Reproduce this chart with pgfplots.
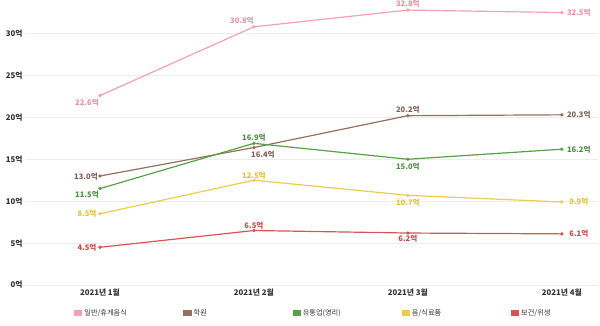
\documentclass[border=0pt]{standalone}
\usepackage{pgfplots}
\pgfplotsset{compat=1.18}
\usepackage{pgfplotstable}
\usepackage{fontspec}
\setmainfont{Noto Sans CJK KR}
\definecolor{cpink}{HTML}{F2A1B1}
\definecolor{lpink}{HTML}{EC8FA2}
\definecolor{cbrown}{HTML}{957060}
\definecolor{lbrown}{HTML}{7E6055}
\definecolor{cgreen}{HTML}{56A046}
\definecolor{lgreen}{HTML}{4E8E42}
\definecolor{cyellow}{HTML}{EDCB4E}
\definecolor{lyellow}{HTML}{E6BE38}
\definecolor{cred}{HTML}{D65454}
\definecolor{lred}{HTML}{C84848}
\definecolor{ctext}{HTML}{333333}

\pgfplotstableread{
x y dx dy
0 22.6 -13 -7
1 30.8 -12 6
2 32.8 0 6
3 32.5 17 0
}\pinkdata
\pgfplotstableread{
x y dx dy
0 13.0 -14 -1
1 16.4 9 -7
2 20.2 0 6
3 20.3 17 0
}\browndata
\pgfplotstableread{
x y dx dy
0 11.5 -13 -6
1 16.9 0 6
2 15.0 0 -7
3 16.2 17 0
}\greendata
\pgfplotstableread{
x y dx dy
0 8.5 -13 0
1 12.5 0 5
2 10.7 0 -7
3 9.9 17 0
}\yellowdata
\pgfplotstableread{
x y dx dy
0 4.5 -13 0
1 6.5 0 5
2 6.2 0 -6
3 6.1 17 0
}\reddata

\begin{document}
\begin{tikzpicture}
\useasboundingbox (0,0) rectangle (600bp,326bp);
\begin{axis}[
  at={(25bp,41bp)}, anchor=south west,
  scale only axis, width=573bp, height=285bp,
  xmin=-0.487, xmax=3.235, ymin=0, ymax=34,
  clip=false,
  axis line style={draw=none},
  major tick length=0pt,
  ymajorgrids, major grid style={color=black!7, line width=0.5bp},
  ytick={0,5,...,30},
  /pgf/number format/assume math mode=true,
  yticklabel={\pgfmathprintnumber{\tick}억},
  yticklabel style={xshift=1bp},
  xtick={0,1,2,3},
  xticklabels={2021년 1월,2021년 2월,2021년 3월,2021년 4월},
  ticklabel style={font=\fontsize{7.8bp}{9bp}\selectfont\bfseries, text=ctext},
  nodes near coords={\pgfmathprintnumber[fixed,fixed zerofill,precision=1]{\pgfplotspointmeta}억},
  visualization depends on={\thisrow{dx} \as \dx},
  visualization depends on={\thisrow{dy} \as \dy},
  every node near coord/.append style={anchor=center, xshift=\dx bp, yshift=\dy bp, font=\fontsize{7.6bp}{9bp}\selectfont\bfseries, inner sep=0pt},
  every axis plot/.append style={line width=1.2bp, mark=*, mark size=1bp},
  legend image code/.code={\fill[#1] (0bp,-2.5bp) rectangle (7bp,2.5bp);},
  legend columns=5,
  legend style={at={(0.0855,-0.098)}, anchor=west, draw=none, fill=none, inner sep=0pt,
    nodes={inner sep=1bp, font=\fontsize{7.2bp}{9bp}\selectfont, text=ctext},
    /tikz/every odd column/.append style={column sep=1bp}},
  legend cell align=left,
]
\addplot[color=cpink, every node near coord/.append style={text=lpink}] table[x=x,y=y] {\pinkdata};
\addlegendentry{\makebox[98bp][l]{일반/휴게음식}}
\addplot[color=cbrown, every node near coord/.append style={text=lbrown}] table[x=x,y=y] {\browndata};
\addlegendentry{\makebox[98bp][l]{학원}}
\addplot[color=cgreen, every node near coord/.append style={text=lgreen}] table[x=x,y=y] {\greendata};
\addlegendentry{\makebox[98bp][l]{유통업(영리)}}
\addplot[color=cyellow, every node near coord/.append style={text=lyellow}] table[x=x,y=y] {\yellowdata};
\addlegendentry{\makebox[98bp][l]{음/식료품}}
\addplot[color=cred, every node near coord/.append style={text=lred}] table[x=x,y=y] {\reddata};
\addlegendentry{\makebox[98bp][l]{보건/위생}}
\end{axis}
\end{tikzpicture}
\end{document}
